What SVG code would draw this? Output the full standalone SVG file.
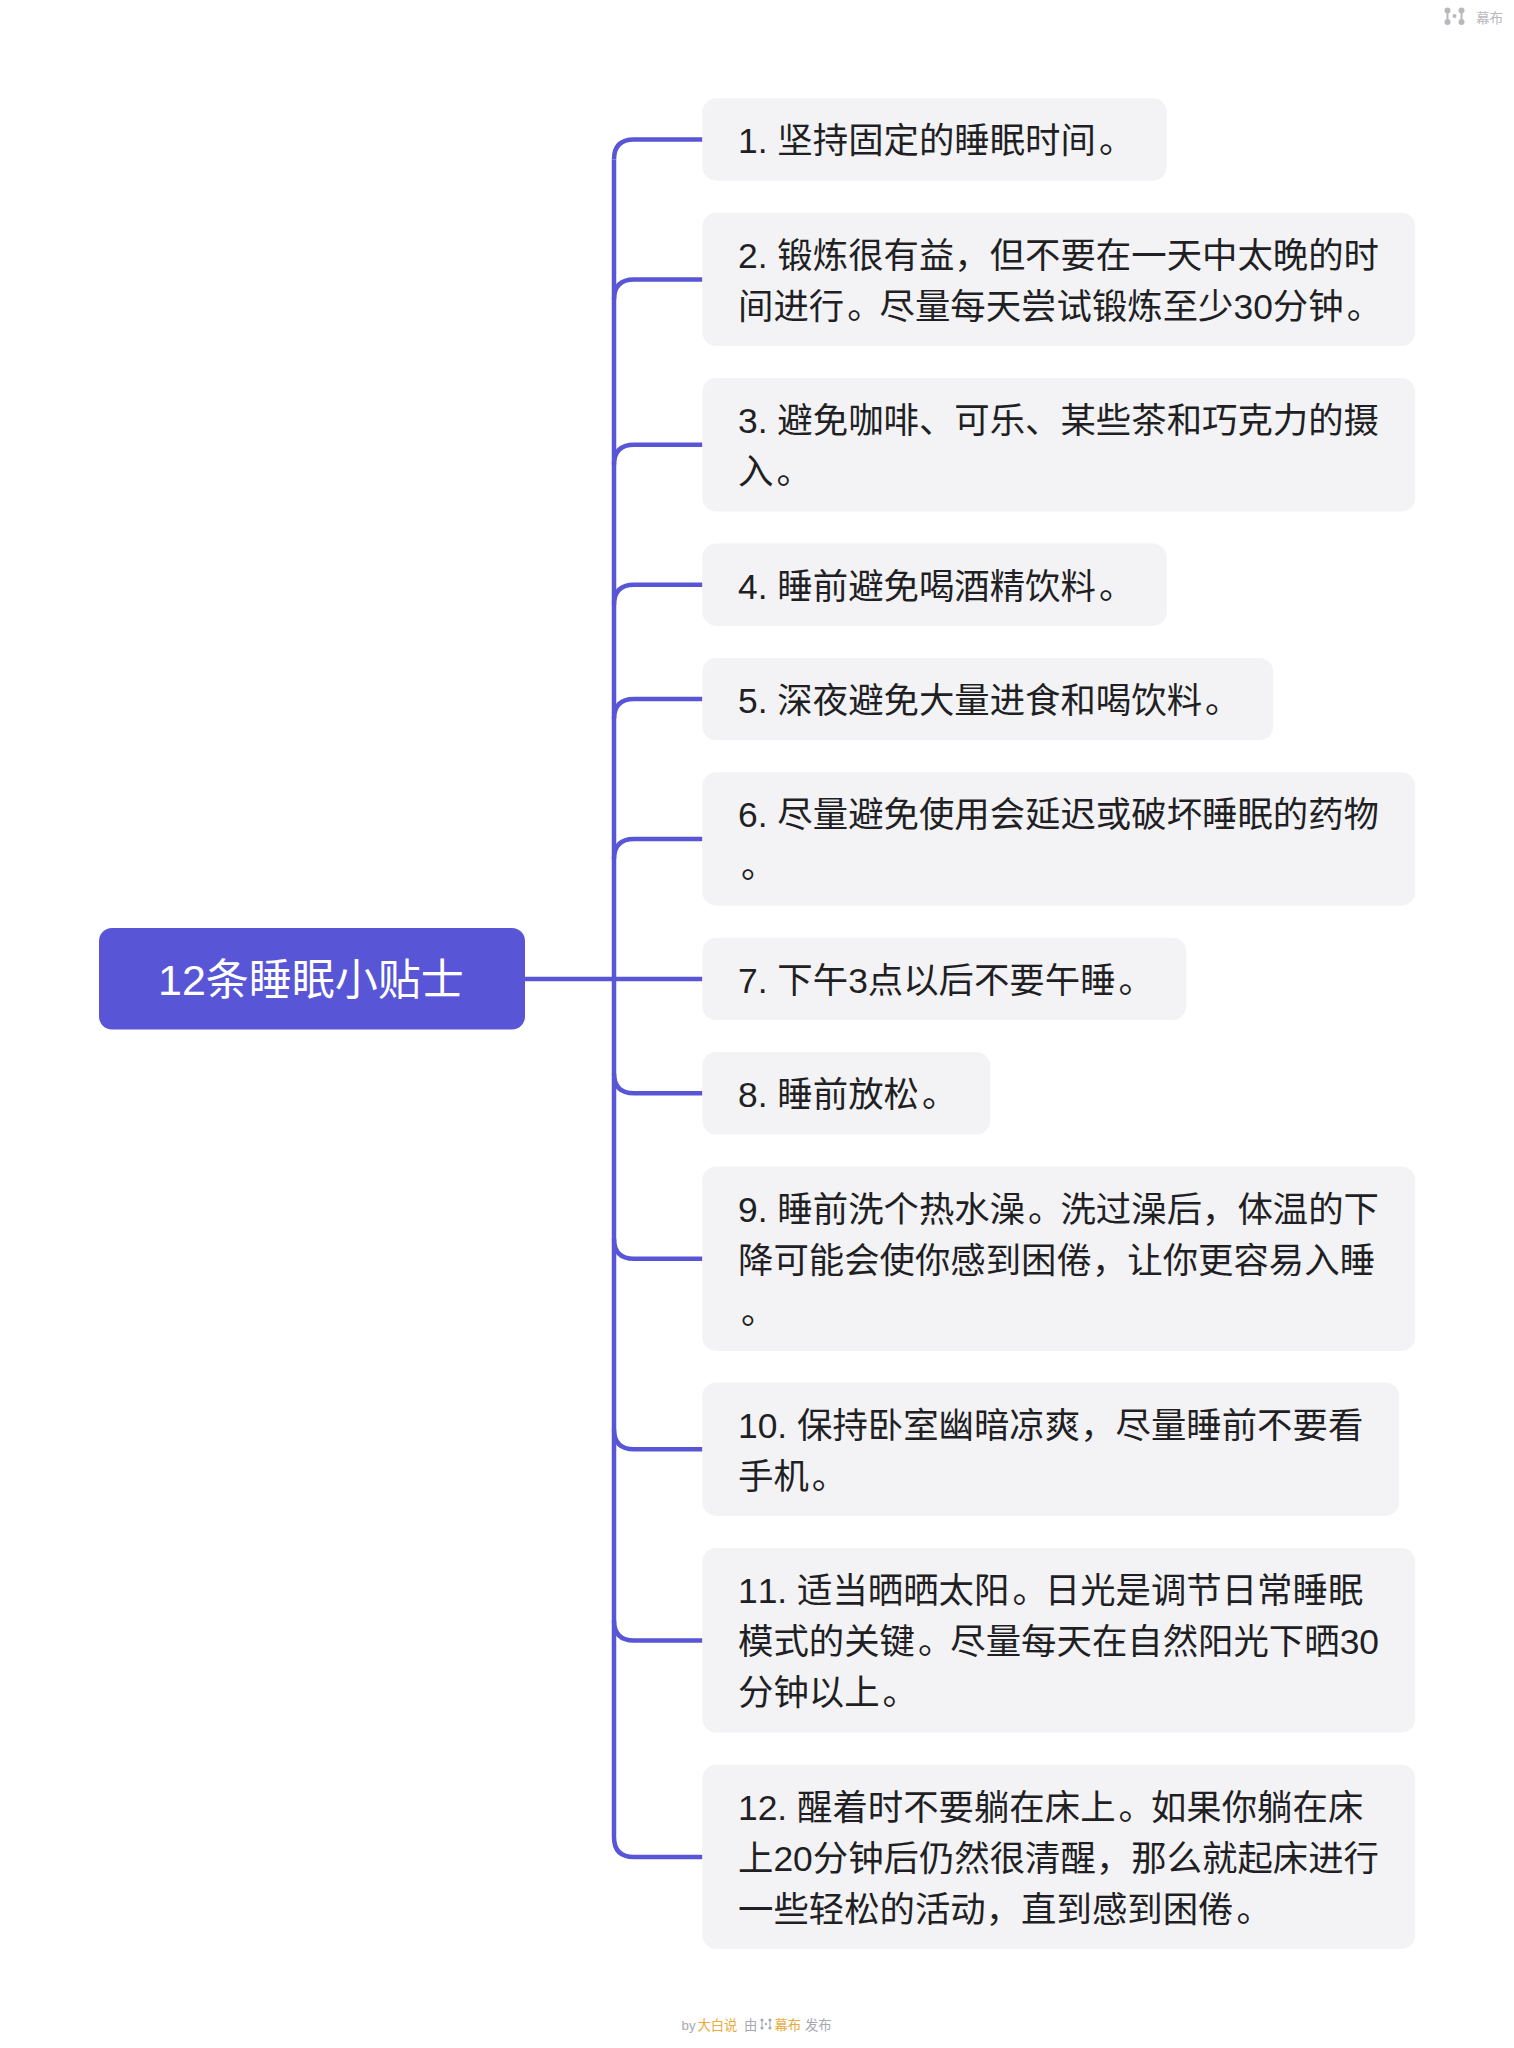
<svg xmlns="http://www.w3.org/2000/svg" width="1514" height="2048" viewBox="0 0 1514 2048">
<style>
text{font-family:"Liberation Sans","Noto Sans CJK SC",sans-serif;font-kerning:none}
.n{fill:#f3f3f6}
.t{font-size:35.4px;fill:#1f1f24}
.c{fill:none;stroke:#5856d6;stroke-width:4.5}
</style>
<rect width="1514" height="2048" fill="#fff"/>
<g id="connectors" class="c">
<path d="M614 159.500V1836.900"/>
<path d="M525 979H702.500"/>
<path d="M702.500 139.500H634Q614 139.500 614 159.500"/>
<path d="M702.500 279.400H634Q614 279.400 614 299.400"/>
<path d="M702.500 444.800H634Q614 444.800 614 464.800"/>
<path d="M702.500 584.700H634Q614 584.700 614 604.700"/>
<path d="M702.500 699.100H634Q614 699.100 614 719.100"/>
<path d="M702.500 839H634Q614 839 614 859"/>
<path d="M702.500 1093.300H634Q614 1093.300 614 1073.300"/>
<path d="M702.500 1258.700H634Q614 1258.700 614 1238.700"/>
<path d="M702.500 1449.300H634Q614 1449.300 614 1429.300"/>
<path d="M702.500 1640.500H634Q614 1640.500 614 1620.500"/>
<path d="M702.500 1856.900H634Q614 1856.900 614 1836.900"/>
</g>
<g id="root"><rect x="99" y="928" width="426" height="101.500" rx="13" fill="#5856d6"/><text x="158" y="994.500" font-size="43" fill="#fff">12条睡眠小贴士</text></g>
<g id="n1"><rect class="n" x="702.300" y="98.300" width="464.500" height="82.400" rx="14"/><text class="t" x="738" y="153.300">1. 坚持固定的睡眠时间<tspan dx="3">。</tspan></text></g>
<g id="n2"><rect class="n" x="702.300" y="212.700" width="713" height="133.400" rx="14"/><text class="t" x="738" y="267.700">2. 锻炼很有益，但不要在一天中太晚的时</text><text class="t" x="738" y="318.700">间进行<tspan dx="3">。</tspan><tspan dx="-3">尽量每天尝试锻炼至少30分钟</tspan><tspan dx="3">。</tspan></text></g>
<g id="n3"><rect class="n" x="702.300" y="378.100" width="713" height="133.400" rx="14"/><text class="t" x="738" y="433.100">3. 避免咖啡、可乐、某些茶和巧克力的摄</text><text class="t" x="738" y="484.100">入<tspan dx="3">。</tspan></text></g>
<g id="n4"><rect class="n" x="702.300" y="543.500" width="464.500" height="82.400" rx="14"/><text class="t" x="738" y="598.500">4. 睡前避免喝酒精饮料<tspan dx="3">。</tspan></text></g>
<g id="n5"><rect class="n" x="702.300" y="657.900" width="571" height="82.400" rx="14"/><text class="t" x="738" y="712.900">5. 深夜避免大量进食和喝饮料<tspan dx="3">。</tspan></text></g>
<g id="n6"><rect class="n" x="702.300" y="772.300" width="713" height="133.400" rx="14"/><text class="t" x="738" y="827.300">6. 尽量避免使用会延迟或破坏睡眠的药物</text><text class="t" x="741" y="878.300">。</text></g>
<g id="n7"><rect class="n" x="702.300" y="937.700" width="484" height="82.400" rx="14"/><text class="t" x="738" y="992.700">7. 下午3点以后不要午睡<tspan dx="3">。</tspan></text></g>
<g id="n8"><rect class="n" x="702.300" y="1052.100" width="288" height="82.400" rx="14"/><text class="t" x="738" y="1107.100">8. 睡前放松<tspan dx="3">。</tspan></text></g>
<g id="n9"><rect class="n" x="702.300" y="1166.500" width="713" height="184.400" rx="14"/><text class="t" x="738" y="1221.500">9. 睡前洗个热水澡<tspan dx="3">。</tspan><tspan dx="-3">洗过澡后，体温的下</tspan></text><text class="t" x="738" y="1272.500">降可能会使你感到困倦，让你更容易入睡</text><text class="t" x="741" y="1323.500">。</text></g>
<g id="n10"><rect class="n" x="702.300" y="1382.500" width="697" height="133.400" rx="14"/><text class="t" x="738" y="1437.500">10. 保持卧室幽暗凉爽，尽量睡前不要看</text><text class="t" x="738" y="1488.500">手机<tspan dx="3">。</tspan></text></g>
<g id="n11"><rect class="n" x="702.300" y="1548.100" width="713" height="184.400" rx="14"/><text class="t" x="738" y="1603.100">11. 适当晒晒太阳<tspan dx="3">。</tspan><tspan dx="-3">日光是调节日常睡眠</tspan></text><text class="t" x="738" y="1654.100">模式的关键<tspan dx="3">。</tspan><tspan dx="-3">尽量每天在自然阳光下晒30</tspan></text><text class="t" x="738" y="1705.100">分钟以上<tspan dx="3">。</tspan></text></g>
<g id="n12"><rect class="n" x="702.300" y="1764.700" width="713" height="184.400" rx="14"/><text class="t" x="738" y="1819.700">12. 醒着时不要躺在床上<tspan dx="3">。</tspan><tspan dx="-3">如果你躺在床</tspan></text><text class="t" x="738" y="1870.700">上20分钟后仍然很清醒，那么就起床进行</text><text class="t" x="738" y="1921.700">一些轻松的活动，直到感到困倦<tspan dx="3">。</tspan></text></g>
<g id="watermark" fill="#b9b9bd"><circle cx="1447.500" cy="10.500" r="3"/><circle cx="1447.500" cy="22" r="3"/><circle cx="1454.500" cy="16" r="2"/><circle cx="1461.500" cy="10.500" r="3"/><circle cx="1461.500" cy="22" r="3"/><path d="M1446.500 10.500h2v12h-2zM1460.500 10.500h2v12h-2z"/><text x="1476" y="22.500" font-size="13.600">幕布</text></g>
<g id="footer" font-size="13.300"><text x="681.500" y="2029.500" fill="#a8a8b0">by</text><text x="697.500" y="2029.500" fill="#e8ab3a">大白说</text><text x="744" y="2029.500" fill="#a8a8b0">由</text><g fill="#a8a8b0"><circle cx="762" cy="2020" r="1.600"/><circle cx="762" cy="2028" r="1.600"/><circle cx="766" cy="2024" r="1.200"/><circle cx="770" cy="2020" r="1.600"/><circle cx="770" cy="2028" r="1.600"/><path d="M761.500 2020h1v8h-1zM769.500 2020h1v8h-1z"/></g><text x="774.500" y="2029.500" fill="#e8ab3a">幕布</text><text x="805" y="2029.500" fill="#a8a8b0">发布</text></g>
</svg>
